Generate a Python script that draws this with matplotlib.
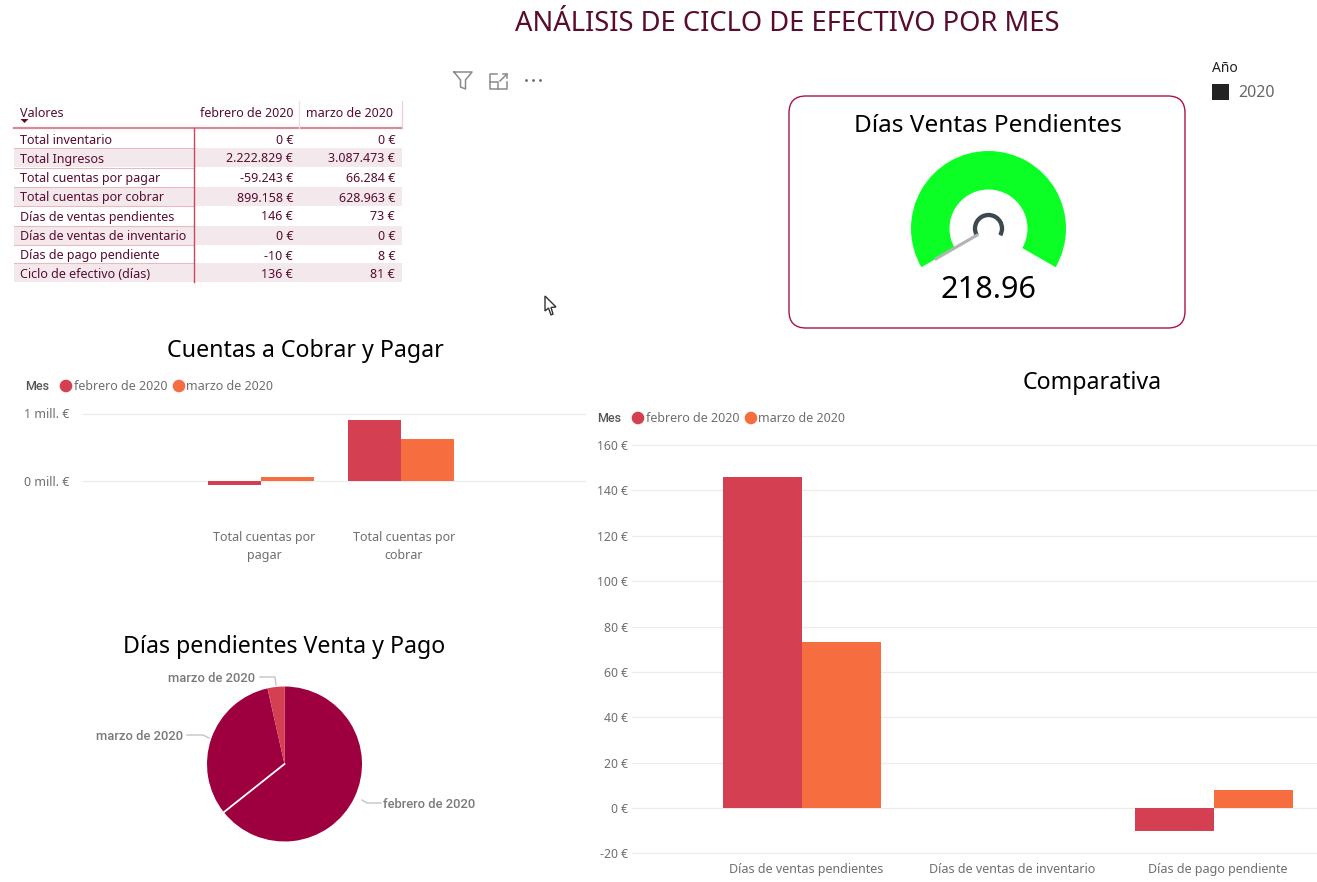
import matplotlib
matplotlib.use("Agg")
import matplotlib.pyplot as plt
from matplotlib.patches import Wedge, FancyBboxPatch, Rectangle, Arc, Polygon, Circle
from matplotlib.ticker import FuncFormatter
import numpy as np

plt.rcParams['font.family'] = ['Noto Sans', 'DejaVu Sans']

W, H = 1317, 882
MAROON = '#5a0b2e'
RED = '#d43f51'
ORANGE = '#f66d40'
PIE_DARK = '#9e003f'
GREY = '#6f6f6f'

page_title = 'ANÁLISIS DE CICLO DE EFECTIVO POR MES'

table_rows = ['Total inventario', 'Total Ingresos', 'Total cuentas por pagar', 'Total cuentas por cobrar',
              'Días de ventas pendientes', 'Días de ventas de inventario', 'Días de pago pendiente',
              'Ciclo de efectivo (días)']
table_feb = ['0 €', '2.222.829 €', '-59.243 €', '899.158 €', '146 €', '0 €', '-10 €', '136 €']
table_mar = ['0 €', '3.087.473 €', '66.284 €', '628.963 €', '73 €', '0 €', '8 €', '81 €']
months = ['febrero de 2020', 'marzo de 2020']

cuentas_cats = ['Total cuentas por\npagar', 'Total cuentas por\ncobrar']
cuentas_feb = [-59243, 899158]
cuentas_mar = [66284, 628963]

comp_cats = ['Días de ventas pendientes', 'Días de ventas de inventario', 'Días de pago pendiente']
comp_feb = [146, 0, -10]
comp_mar = [73, 0, 8]
comp_ticks = [-20, 0, 20, 40, 60, 80, 100, 120, 140, 160]

pie_labels = ['febrero de 2020', 'marzo de 2020', 'marzo de 2020']
pie_values = [146, 73, 8]

gauge_value = 218.96
gauge_min = 218.96
gauge_max = 437.92

fig = plt.figure(figsize=(W / 100, H / 100), dpi=100, facecolor='white')


def px_axes(left, top, right, bottom, **kw):
    return fig.add_axes([left / W, 1 - bottom / H, (right - left) / W, (bottom - top) / H], **kw)


# ------------ overlay in pixel coordinates
ov = fig.add_axes([0, 0, 1, 1], zorder=0)
ov.set_xlim(0, W)
ov.set_ylim(H, 0)
ov.axis('off')

ov.text(787, 24, page_title, fontsize=19.7, color=MAROON, ha='center', va='center')

# visual header icons
ic = '#8a8a8a'
ov.plot([454, 472, 465.5, 465.5, 460.5, 460.5, 454], [72, 72, 80, 89, 87, 80, 72], color=ic, lw=1.1)
ov.plot([497, 490, 490, 507, 507], [74, 74, 89, 89, 82], color=ic, lw=1.1)
ov.plot([490, 498, 498], [82, 82, 89], color=ic, lw=1.1)
ov.plot([500, 507], [81, 74], color=ic, lw=1.1)
ov.plot([503, 507, 507], [74, 74, 78], color=ic, lw=1.1)
ov.scatter([526, 533, 540], [80, 80, 80], s=4, color='#666666', linewidths=0)
ov.add_patch(Polygon([(545, 296), (545, 311), (548.5, 308), (551, 315), (553, 314), (551, 307.5), (556, 307)],
                     closed=True, fc='white', ec='#333333', lw=1))

# ------------ table
row_y = [139, 158, 177.5, 197, 216, 236, 255, 273]
BASE = 4.5
ov.text(20, 117, 'Valores', fontsize=9, color=MAROON, va='baseline')
ov.add_patch(Polygon([(20.5, 119), (28.5, 119), (24.5, 123)], closed=True, fc=MAROON, ec='none'))
ov.text(293, 117, months[0], fontsize=9, color=MAROON, va='baseline', ha='right')
ov.text(393, 117, months[1], fontsize=9, color=MAROON, va='baseline', ha='right')
for i, y in enumerate(row_y):
    if i % 2 == 1:
        ov.add_patch(Rectangle((14, y - 9.7), 388, 19.2, fc='#f3e9ed', ec='none'))
    ov.text(20, y + BASE, table_rows[i], fontsize=9, color=MAROON, va='baseline')
    ov.text(293, y + BASE, table_feb[i], fontsize=9, color=MAROON, va='baseline', ha='right')
    ov.text(395, y + BASE, table_mar[i], fontsize=9, color=MAROON, va='baseline', ha='right')
    if i > 0:
        ov.plot([14, 193], [y - 10, y - 10], color='#eab9c2', lw=0.8)
ov.plot([14, 402], [128, 128], color='#d98a98', lw=1.6)
ov.plot([193.5, 193.5], [128, 282], color='#c8485c', lw=1.0)
ov.plot([298.5, 298.5], [101, 128], color='#f3dde2', lw=0.9)
ov.plot([401.5, 401.5], [101, 128], color='#f0cdd4', lw=0.9)

# ------------ gauge card
ov.add_patch(FancyBboxPatch((789, 96), 396, 232, boxstyle='round,pad=0,rounding_size=17',
                            fc='white', ec='#a8124f', lw=1.0))
ov.text(988, 126, 'Días Ventas Pendientes', fontsize=17.5, color='black', ha='center', va='center')
gx, gy, ro, ri = 988.5, 228.5, 77.5, 39
ov.add_patch(Wedge((gx, gy), ro, 150, 390, width=ro - ri, fc='#0cff25', ec='none'))
frac = (gauge_value - gauge_min) / (gauge_max - gauge_min)
ang = np.deg2rad(150 + 240 * frac)
ov.plot([gx + 62 * np.cos(ang), gx + 12 * np.cos(ang)], [gy + 62 * np.sin(ang), gy + 12 * np.sin(ang)],
        color='#b3b3b3', lw=2.2, solid_capstyle='butt')
ov.add_patch(Arc((gx, gy), 27, 27, theta1=150, theta2=390, color='#3c4a50', lw=3.1))
ov.text(988, 290, f'{gauge_value:.2f}', fontsize=22.1, color='black', ha='center', va='center')

# Year legend
ov.text(1212, 68.5, 'Año', fontsize=10, color='#222222', va='center')
ov.add_patch(Rectangle((1212, 83.5), 16.5, 16.5, fc='#222222', ec='none'))
ov.text(1238, 93, '2020', fontsize=11.5, color='#666666', va='center')

# ------------ chart titles and legends
ov.text(305, 351, 'Cuentas a Cobrar y Pagar', fontsize=16.7, color='black', ha='center', va='center')
ov.text(1092, 383, 'Comparativa', fontsize=16.7, color='black', ha='center', va='center')
ov.text(284, 647, 'Días pendientes Venta y Pago', fontsize=16.7, color='black', ha='center', va='center')


def legend(x0, y, x1, x2):
    ov.text(x0, y + 1, 'Mes', fontsize=9, color='#555555', fontweight='medium', va='center',
            family=['Roboto', 'DejaVu Sans'])
    ov.add_patch(Circle((x1, y + 0.5), 6.3, fc=RED, ec='none'))
    ov.text(x1 + 7.5, y + 1, months[0], fontsize=9, color=GREY, va='center')
    ov.add_patch(Circle((x2, y + 0.5), 6.3, fc=ORANGE, ec='none'))
    ov.text(x2 + 7.5, y + 1, months[1], fontsize=9, color=GREY, va='center')


legend(25, 385.5, 66, 179)
legend(597, 417.5, 638, 751)

# ------------ Cuentas bar chart
BAR_W = 53 / 140
ax1 = px_axes(82, 398, 586, 510)
ax1.patch.set_alpha(0)
x1 = np.arange(len(cuentas_cats))
ax1.bar(x1 - BAR_W / 2, cuentas_feb, BAR_W, color=RED)
ax1.bar(x1 + BAR_W / 2, cuentas_mar, BAR_W, color=ORANGE)
ax1.set_xlim((82 - 261) / 140, (586 - 261) / 140)
ax1.set_ylim(-(510 - 481) / 67.5 * 1e6, (481 - 398) / 67.5 * 1e6)
ax1.set_yticks([0, 1e6])
ax1.yaxis.set_major_formatter(FuncFormatter(lambda v, p: f'{v / 1e6:.0f} mill. €'))
ax1.set_xticks(x1 + 3 / 140)
ax1.set_xticklabels(cuentas_cats, fontsize=9, color=GREY, linespacing=1.5)
ax1.tick_params(axis='x', length=0, pad=15)
ax1.tick_params(axis='y', length=0, pad=9, labelsize=9, labelcolor=GREY)
ax1.grid(axis='y', color='#ececec', lw=0.9)
ax1.set_axisbelow(True)
for s in ax1.spines.values():
    s.set_visible(False)

# ------------ Comparativa bar chart
BAR_W2 = 79 / 206
ax2 = px_axes(632, 430, 1317, 863)
ax2.patch.set_alpha(0)
x2 = np.arange(len(comp_cats))
ax2.bar(x2 - BAR_W2 / 2, comp_feb, BAR_W2, color=RED)
ax2.bar(x2 + BAR_W2 / 2, comp_mar, BAR_W2, color=ORANGE)
ax2.set_xlim((632 - 802) / 206, (1317 - 802) / 206)
per = (808 - 445) / 160
ax2.set_ylim(-(863 - 808) / per, (808 - 430) / per)
ax2.set_yticks(comp_ticks)
ax2.yaxis.set_major_formatter(FuncFormatter(lambda v, p: f'{v:.0f} €'))
ax2.set_xticks(x2 + 4 / 206)
ax2.set_xticklabels(comp_cats, fontsize=9, color=GREY)
ax2.tick_params(axis='x', length=0, pad=0)
ax2.tick_params(axis='y', length=0, pad=3, labelsize=8.8, labelcolor=GREY)
ax2.grid(axis='y', color='#ececec', lw=0.9)
ax2.set_axisbelow(True)
for s in ax2.spines.values():
    s.set_visible(False)

# ------------ Pie
cx, cy, r = 284.5, 764, 77.5
ax3 = px_axes(cx - r, cy - r, cx + r, cy + r)
wedges, _ = ax3.pie(pie_values, startangle=90, counterclock=False, colors=[PIE_DARK, PIE_DARK, RED],
                    radius=1, wedgeprops={'linewidth': 0})
ax3.set_xlim(-1, 1)
ax3.set_ylim(-1, 1)
bound = np.deg2rad(90 - 360 * pie_values[0] / sum(pie_values))
ax3.plot([0, np.cos(bound)], [0, np.sin(bound)], color='white', lw=1.3)

lc = '#c4c4c4'
lab = '#7a7a7a'
pf = ['Roboto', 'DejaVu Sans']
ov.plot([362, 367, 381], [800, 803, 803], color=lc, lw=1)
ov.text(383, 804, pie_labels[0], fontsize=9.4, color=lab, va='center', fontweight='medium', family=pf)
ov.plot([187, 203, 209], [735, 735, 738], color=lc, lw=1)
ov.text(183, 737, pie_labels[1], fontsize=9.4, color=lab, va='center', ha='right', fontweight='medium', family=pf)
ov.plot([260, 275, 276], [677, 677, 685], color=lc, lw=1)
ov.text(255, 679, pie_labels[2], fontsize=9.4, color=lab, va='center', ha='right', fontweight='medium', family=pf)

fig.savefig('out.png', dpi=100, facecolor='white')
